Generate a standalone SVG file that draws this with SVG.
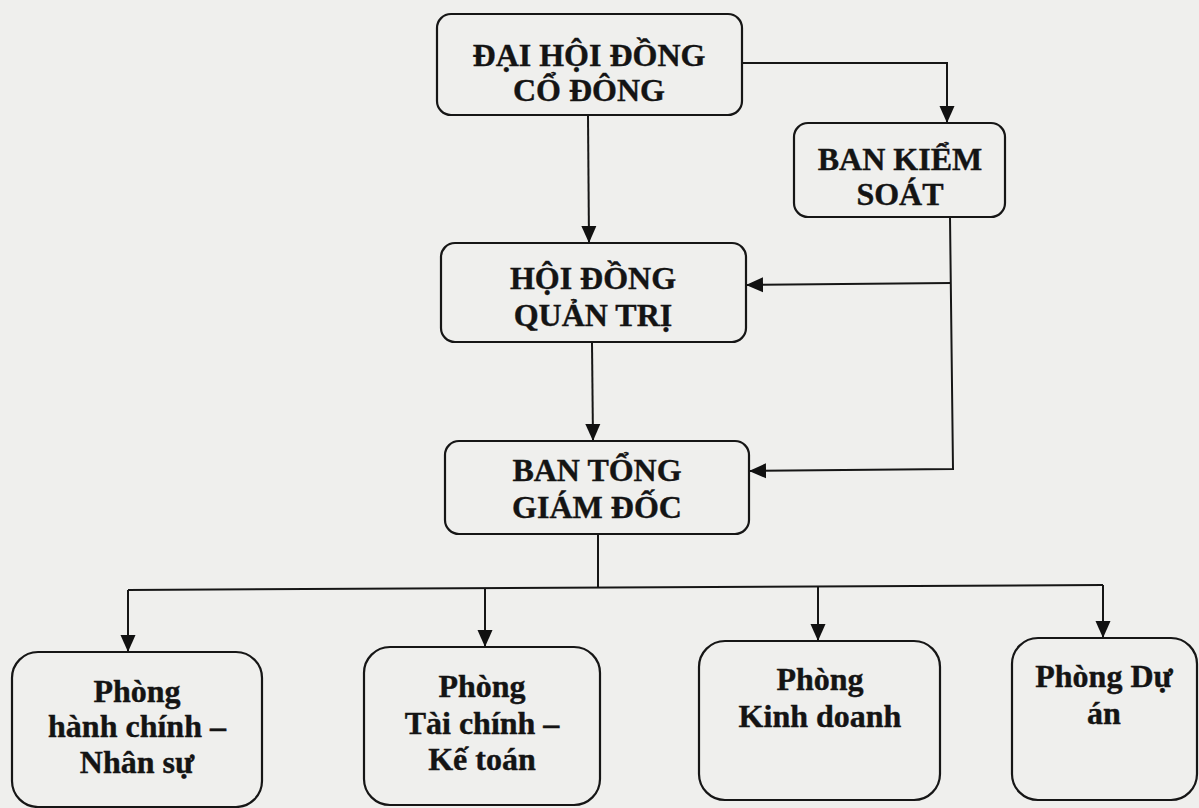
<svg xmlns="http://www.w3.org/2000/svg" width="1199" height="808" viewBox="0 0 1199 808">
<defs>
<marker id="arr" markerUnits="userSpaceOnUse" markerWidth="17" markerHeight="17" viewBox="0 0 17 17" refX="17" refY="8.5" orient="auto">
<path d="M0,1 L17,8.5 L0,16 Z" fill="#111"/>
</marker>
</defs>
<style>
.box{fill:none;stroke:#161616;stroke-width:2.2}
.t{font-family:"Liberation Serif","Times New Roman",serif;font-weight:bold;font-size:32px;fill:#141414;text-anchor:middle;stroke:#141414;stroke-width:0.4}
.c{fill:none;stroke:#161616;stroke-width:2}
</style>
<rect x="0" y="0" width="1199" height="808" fill="#efefed"/>
<g id="connectors">
<polyline class="c" points="742,63 947,63 947,123" marker-end="url(#arr)"/>
<line class="c" x1="588" y1="116" x2="589" y2="243" marker-end="url(#arr)"/>
<polyline class="c" points="950,217 953,469 749,471" marker-end="url(#arr)"/>
<line class="c" x1="951" y1="283" x2="746" y2="285" marker-end="url(#arr)"/>
<line class="c" x1="592" y1="343" x2="593" y2="441" marker-end="url(#arr)"/>
<line class="c" x1="598" y1="534" x2="598" y2="587"/>
<polyline class="c" points="128,590 1103,585"/>
<line class="c" x1="128" y1="590" x2="128" y2="652" marker-end="url(#arr)"/>
<line class="c" x1="485" y1="589" x2="485" y2="647" marker-end="url(#arr)"/>
<line class="c" x1="818" y1="587" x2="818" y2="641" marker-end="url(#arr)"/>
<line class="c" x1="1103" y1="585" x2="1103" y2="638" marker-end="url(#arr)"/>
</g>
<g id="dhdcd">
<rect class="box" x="437" y="14" width="305" height="101" rx="14"/>
<text class="t" x="589" y="66">ĐẠI HỘI ĐỒNG</text>
<text class="t" x="589" y="101">CỔ ĐÔNG</text>
</g>
<g id="bks">
<rect class="box" x="794" y="123" width="211" height="94" rx="14"/>
<text class="t" x="900" y="170">BAN KIỂM</text>
<text class="t" x="900" y="205">SOÁT</text>
</g>
<g id="hdqt">
<rect class="box" x="441" y="243" width="305" height="99" rx="14"/>
<text class="t" x="593" y="289">HỘI ĐỒNG</text>
<text class="t" x="593" y="326">QUẢN TRỊ</text>
</g>
<g id="btgd">
<rect class="box" x="445" y="441" width="304" height="93" rx="14"/>
<text class="t" x="597" y="481">BAN TỔNG</text>
<text class="t" x="597" y="518">GIÁM ĐỐC</text>
</g>
<g id="hcns">
<rect class="box" x="12" y="652" width="250" height="155" rx="26"/>
<text class="t" x="137" y="702">Phòng</text>
<text class="t" x="137" y="737">hành chính –</text>
<text class="t" x="137" y="773">Nhân sự</text>
</g>
<g id="tckt">
<rect class="box" x="364" y="647" width="236" height="158" rx="26"/>
<text class="t" x="482" y="697">Phòng</text>
<text class="t" x="482" y="734">Tài chính –</text>
<text class="t" x="482" y="770">Kế toán</text>
</g>
<g id="kd">
<rect class="box" x="699" y="641" width="241" height="159" rx="26"/>
<text class="t" x="820" y="690">Phòng</text>
<text class="t" x="820" y="727">Kinh doanh</text>
</g>
<g id="da">
<rect class="box" x="1012" y="638" width="185" height="162" rx="26"/>
<text class="t" x="1104" y="687">Phòng Dự</text>
<text class="t" x="1104" y="724">án</text>
</g>
</svg>
